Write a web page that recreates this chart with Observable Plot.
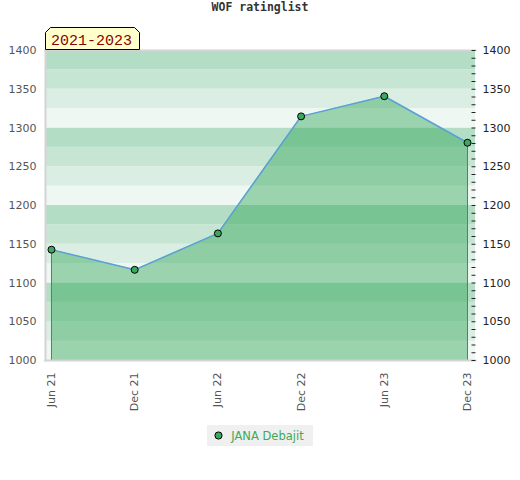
<!DOCTYPE html>
<html>
<head>
<meta charset="utf-8">
<script src="https://cdn.jsdelivr.net/npm/d3@7"></script>
<script src="https://cdn.jsdelivr.net/npm/@observablehq/plot@0.6"></script>
<style>
  html, body { margin: 0; padding: 0; background: #fff; }
  #wrap { position: relative; width: 520px; height: 480px; }
  #title { height: 26px; line-height: 27px; text-align: center; font: bold 11.5px "DejaVu Sans Mono", monospace; color: #333; }
  #badge { position: absolute; left: 45px; top: 27px; }
  #legend { text-align: center; margin-top: 5px; }
  #legend .box { display: inline-flex; align-items: center; height: 21px; background: #f0f0f0; padding: 0 9px 0 7px; }
  #legend span { font: 11.5px "DejaVu Sans", sans-serif; color: #3caa5a; margin-left: 8px; }
</style>
</head>
<body>
<div id="wrap">
  <div id="title">WOF ratinglist</div>
  <div id="chart"></div>
  <div id="badge"><svg width="96" height="23"><polygon points="0.5,22.5 0.5,5.5 5.5,0.5 89.5,0.5 94.5,5.5 94.5,22.5" fill="#ffffcc" stroke="#000" stroke-width="1"/><text x="6" y="18" font-family="Liberation Mono" font-size="15" fill="#8b0000">2021-2023</text></svg></div>
  <div id="legend"><div class="box"><svg width="9" height="9"><circle cx="4.5" cy="4.5" r="3.6" fill="#3aa860" stroke="#000" stroke-width="1"/></svg><span>JANA Debajit</span></div></div>
</div>
<script>
const periods = ["Jun 21", "Dec 21", "Jun 22", "Dec 22", "Jun 23", "Dec 23"];
const ratings = [1143, 1117, 1164, 1315, 1341, 1281];
const yTicks = [1000, 1050, 1100, 1150, 1200, 1250, 1300, 1350, 1400];
const yMinorTicks = d3.range(1000, 1401, 10);
const bandColors = ["#b3ddc4", "#c6e6d3", "#dbeee3", "#eff7f2"];
const seriesName = "JANA Debajit";

const data = periods.map((p, i) => ({i, period: p, rating: ratings[i]}));
const bands = d3.range(1000, 1400, 25).map(lo => ({lo, hi: lo + 25, color: bandColors[3 - (lo % 100) / 25]}));

const chart = Plot.plot({
  width: 520,
  height: 394,
  marginTop: 24,
  marginBottom: 60,
  marginLeft: 45,
  marginRight: 45,
  x: {type: "linear", domain: [-0.072, 5.096]},
  y: {domain: [1000, 1400]},
  color: {type: "identity"},
  style: {fontFamily: "DejaVu Sans", fontSize: "11px", background: "transparent"},
  marks: [
    Plot.rectY(bands, {y1: "lo", y2: "hi", fill: "color"}),
    Plot.areaY(data, {x: "i", y1: 1000, y2: "rating", fill: "#32a759", fillOpacity: 0.45}),
    Plot.ruleX([data[0], data[data.length - 1]], {x: "i", y1: 1000, y2: "rating", stroke: "#2e9a50", strokeWidth: 1}),
    Plot.lineY(data, {x: "i", y: "rating", stroke: "#5a9fd8", strokeWidth: 1.5}),
    Plot.dot(data, {x: "i", y: "rating", r: 3.5, fill: "#3aa860", stroke: "#000", strokeWidth: 1}),
    Plot.frame({anchor: "left", stroke: "#d4d4d4", strokeWidth: 2}),
    Plot.frame({anchor: "top", stroke: "#d4d4d4", strokeWidth: 2}),
    Plot.frame({anchor: "bottom", stroke: "#d4d4d4", strokeWidth: 2}),
    Plot.axisY({anchor: "left", ticks: yTicks, tickSize: 0, tickPadding: 9, tickFormat: d => String(d), fill: "#555", label: null}),
    Plot.axisY({anchor: "right", ticks: yMinorTicks, tickSize: 4, dx: -4.5, tickFormat: () => "", stroke: "#222", label: null}),
    Plot.axisY({anchor: "right", ticks: yTicks, tickSize: 0, tickPadding: 7, tickFormat: d => String(d), fill: "#222", label: null}),
    Plot.axisX({ticks: data.map(d => d.i), tickFormat: i => periods[i], tickRotate: -90, tickSize: 0, tickPadding: 12, fill: "#555", label: null})
  ]
});
document.getElementById("chart").appendChild(chart);
</script>
</body>
</html>
